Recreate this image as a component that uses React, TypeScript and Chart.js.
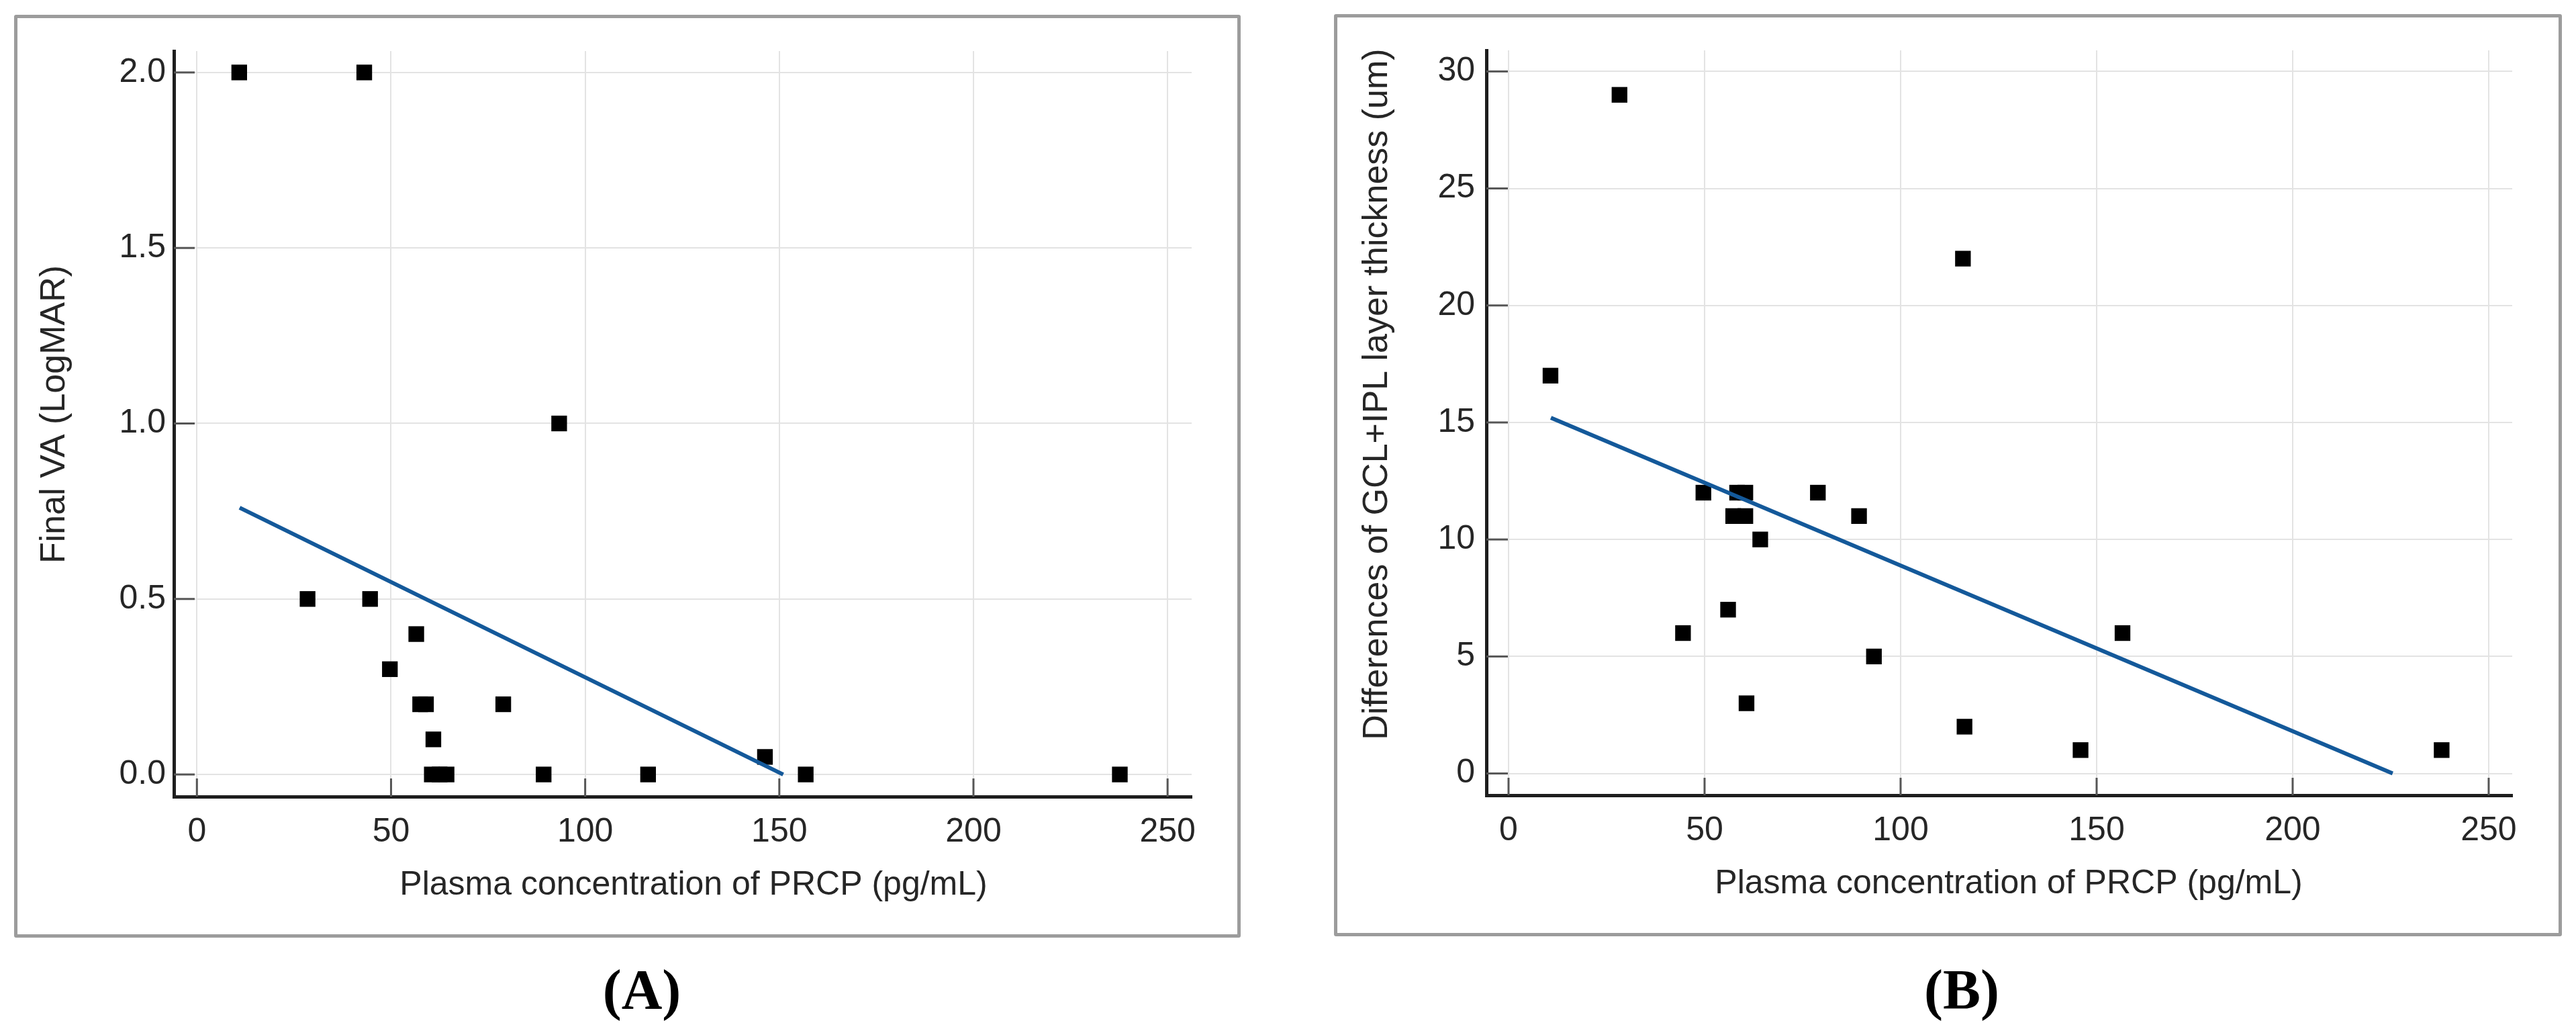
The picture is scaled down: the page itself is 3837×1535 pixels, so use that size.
import React, { useEffect, useRef } from 'react';
import { Chart, registerables } from 'chart.js';

Chart.register(...registerables);

// ---------- data ----------
const xTickValues = [0, 50, 100, 150, 200, 250];
const vaTickValues = [0, 0.5, 1.0, 1.5, 2.0];
const gclTickValues = [0, 5, 10, 15, 20, 25, 30];

// Panel A: Final VA (LogMAR) vs plasma PRCP
const prcpA = [10.9, 43.1, 93.3, 28.5, 44.6, 56.5, 49.7, 57.5, 59.0, 78.9, 60.9, 60.5, 62.5, 64.3, 89.3, 116.2, 146.3, 156.8, 237.7];
const finalVA = [2.0, 2.0, 1.0, 0.5, 0.5, 0.4, 0.3, 0.2, 0.2, 0.2, 0.1, 0, 0, 0, 0, 0, 0.05, 0, 0];
const fitAx = [11, 151];
const fitAy = [0.76, 0];

// Panel B: differences of GCL+IPL thickness vs plasma PRCP
const prcpB = [28.3, 115.9, 10.7, 49.7, 58.3, 60.4, 78.9, 57.3, 60.4, 89.4, 64.2, 56.0, 44.5, 156.6, 93.2, 60.7, 116.3, 145.9, 238.0];
const gclDiff = [29, 22, 17, 12, 12, 12, 12, 11, 11, 11, 10, 7, 6, 6, 5, 3, 2, 1, 1];
const fitBx = [10.8, 225.5];
const fitBy = [15.2, 0];

const xTitleText = 'Plasma concentration of PRCP (pg/mL)';
const yTitleA = 'Final VA (LogMAR)';
const yTitleB = 'Differences of GCL+IPL layer thickness (um)';

// ---------- styling ----------
const FONT = "'Liberation Sans', Arial, Helvetica, sans-serif";
const TEXT = '#262626';
const GRID = '#e3e3e3';
const AXIS = '#1e1e1e';
const TICK = '#555555';
const LINE = '#14599a';

interface PanelSpec {
  left: number;
  width: number;
  xs: number[];
  ys: number[];
  fitX: number[];
  fitY: number[];
  xMin: number;
  xMax: number;
  yMin: number;
  yMax: number;
  yTicks: number[];
  yDecimals: number;
  yAxisWidth: number;
  yTickPad: number;
  padTop: number;
  padRight: number;
  padBottom: number;
  xAxisHeight: number;
  yTitle: string;
  yTitlePos: [number, number];
  xTitlePos: [number, number];
  yTickLen: number;
  xTickLen: number;
}

const H = 1535;

const specA: PanelSpec = {
  left: 0,
  width: 1918,
  xs: prcpA,
  ys: finalVA,
  fitX: fitAx,
  fitY: fitAy,
  xMin: -5.93,
  xMax: 256.2,
  yMin: -0.063,
  yMax: 2.061,
  yTicks: vaTickValues,
  yDecimals: 1,
  yAxisWidth: 259,
  yTickPad: 12,
  padTop: 76,
  padRight: 143,
  padBottom: 187,
  xAxisHeight: 162,
  yTitle: yTitleA,
  yTitlePos: [82, 617],
  xTitlePos: [1033, 1318],
  yTickLen: 31,
  xTickLen: 27,
};

const specB: PanelSpec = {
  left: 1918,
  width: 1919,
  xs: prcpB,
  ys: gclDiff,
  fitX: fitBx,
  fitY: fitBy,
  xMin: -5.65,
  xMax: 256.0,
  yMin: -0.93,
  yMax: 30.9,
  yTicks: gclTickValues,
  yDecimals: 0,
  yAxisWidth: 296,
  yTickPad: 17,
  padTop: 75,
  padRight: 95,
  padBottom: 189,
  xAxisHeight: 162,
  yTitle: yTitleB,
  yTitlePos: [134, 587],
  xTitlePos: [1074, 1316],
  yTickLen: 32,
  xTickLen: 26,
};

function Panel({ spec }: { spec: PanelSpec }) {
  const ref = useRef<HTMLCanvasElement | null>(null);

  useEffect(() => {
    if (!ref.current) return;

    const innerTicks = {
      id: 'innerTicks',
      beforeDatasetsDraw(chart: any) {
        const { ctx, chartArea, scales } = chart;
        ctx.save();
        ctx.strokeStyle = TICK;
        ctx.lineWidth = 3;
        scales.x.ticks.forEach((t: any) => {
          const px = scales.x.getPixelForValue(t.value);
          ctx.beginPath();
          ctx.moveTo(px, chartArea.bottom);
          ctx.lineTo(px, chartArea.bottom - spec.xTickLen);
          ctx.stroke();
        });
        scales.y.ticks.forEach((t: any) => {
          const py = scales.y.getPixelForValue(t.value);
          ctx.beginPath();
          ctx.moveTo(chartArea.left, py);
          ctx.lineTo(chartArea.left + spec.yTickLen, py);
          ctx.stroke();
        });
        ctx.restore();
      },
    };

    const axisTitles = {
      id: 'axisTitles',
      afterDraw(chart: any) {
        const { ctx } = chart;
        ctx.save();
        ctx.fillStyle = TEXT;
        ctx.textAlign = 'center';
        ctx.textBaseline = 'middle';
        ctx.font = `50px ${FONT}`;
        ctx.fillText(xTitleText, spec.xTitlePos[0], spec.xTitlePos[1]);
        ctx.translate(spec.yTitlePos[0], spec.yTitlePos[1]);
        ctx.rotate(-Math.PI / 2);
        ctx.font = `52px ${FONT}`;
        ctx.fillText(spec.yTitle, 0, 0);
        ctx.restore();
      },
    };

    const points = spec.xs.map((x, i) => ({ x, y: spec.ys[i] }));
    const fit = spec.fitX.map((x, i) => ({ x, y: spec.fitY[i] }));

    const chart = new Chart(ref.current, {
      type: 'scatter',
      data: {
        datasets: [
          {
            type: 'line',
            label: 'fit',
            data: fit,
            borderColor: LINE,
            borderWidth: 6,
            pointRadius: 0,
            fill: false,
            showLine: true,
          } as any,
          {
            label: 'patients',
            data: points,
            pointStyle: 'rect',
            pointRadius: 16.5,
            pointHoverRadius: 16.5,
            backgroundColor: '#000000',
            borderWidth: 0,
          },
        ],
      },
      options: {
        animation: false,
        responsive: false,
        devicePixelRatio: 1,
        events: [],
        layout: {
          padding: { left: 0, top: spec.padTop, right: spec.padRight, bottom: spec.padBottom },
        },
        plugins: {
          legend: { display: false },
          tooltip: { enabled: false },
        },
        scales: {
          x: {
            type: 'linear',
            min: spec.xMin,
            max: spec.xMax,
            afterBuildTicks: (s: any) => {
              s.ticks = xTickValues.map((v) => ({ value: v }));
            },
            afterFit: (s: any) => {
              s.height = spec.xAxisHeight;
              s.paddingLeft = 0;
              s.paddingRight = 0;
            },
            grid: { color: GRID, lineWidth: 2, drawTicks: false },
            border: { display: true, color: AXIS, width: 5 },
            ticks: {
              padding: 23,
              color: TEXT,
              font: { family: FONT, size: 50 },
              maxRotation: 0,
              autoSkip: false,
              callback: (v: any) => String(v),
            },
            title: { display: false },
          },
          y: {
            type: 'linear',
            min: spec.yMin,
            max: spec.yMax,
            afterBuildTicks: (s: any) => {
              s.ticks = spec.yTicks.map((v) => ({ value: v }));
            },
            afterFit: (s: any) => {
              s.width = spec.yAxisWidth;
              s.paddingTop = 0;
              s.paddingBottom = 0;
            },
            grid: { color: GRID, lineWidth: 2, drawTicks: false },
            border: { display: true, color: AXIS, width: 5 },
            ticks: {
              padding: spec.yTickPad,
              color: TEXT,
              font: { family: FONT, size: 50 },
              autoSkip: false,
              callback: (v: any) => Number(v).toFixed(spec.yDecimals),
            },
            title: { display: false },
          },
        },
      },
      plugins: [innerTicks, axisTitles],
    });

    return () => chart.destroy();
  }, [spec]);

  return (
    <canvas
      ref={ref}
      width={spec.width}
      height={H}
      style={{ position: 'absolute', left: spec.left, top: 0, width: spec.width, height: H }}
    />
  );
}

const frameStyle = (left: number, top: number, width: number, height: number): React.CSSProperties => ({
  position: 'absolute',
  left,
  top,
  width,
  height,
  boxSizing: 'border-box',
  border: '5px solid #9c9c9c',
  borderRadius: 3,
  background: '#ffffff',
});

const labelStyle = (center: number): React.CSSProperties => ({
  position: 'absolute',
  left: center - 200,
  width: 400,
  top: 1432,
  textAlign: 'center',
  fontFamily: "'Liberation Serif', 'Times New Roman', serif",
  fontWeight: 'bold',
  fontSize: 84,
  lineHeight: '84px',
  color: '#000',
});

export default function App() {
  return (
    <div
      style={{
        position: 'fixed',
        left: 0,
        top: 0,
        width: 3837,
        height: H,
        background: '#ffffff',
        overflow: 'hidden',
      }}
    >
      <div style={frameStyle(21, 22, 1827, 1374)} />
      <div style={frameStyle(1987, 21, 1829, 1373)} />
      <Panel spec={specA} />
      <Panel spec={specB} />
      <div style={labelStyle(956)}>(A)</div>
      <div style={labelStyle(2922)}>(B)</div>
    </div>
  );
}
